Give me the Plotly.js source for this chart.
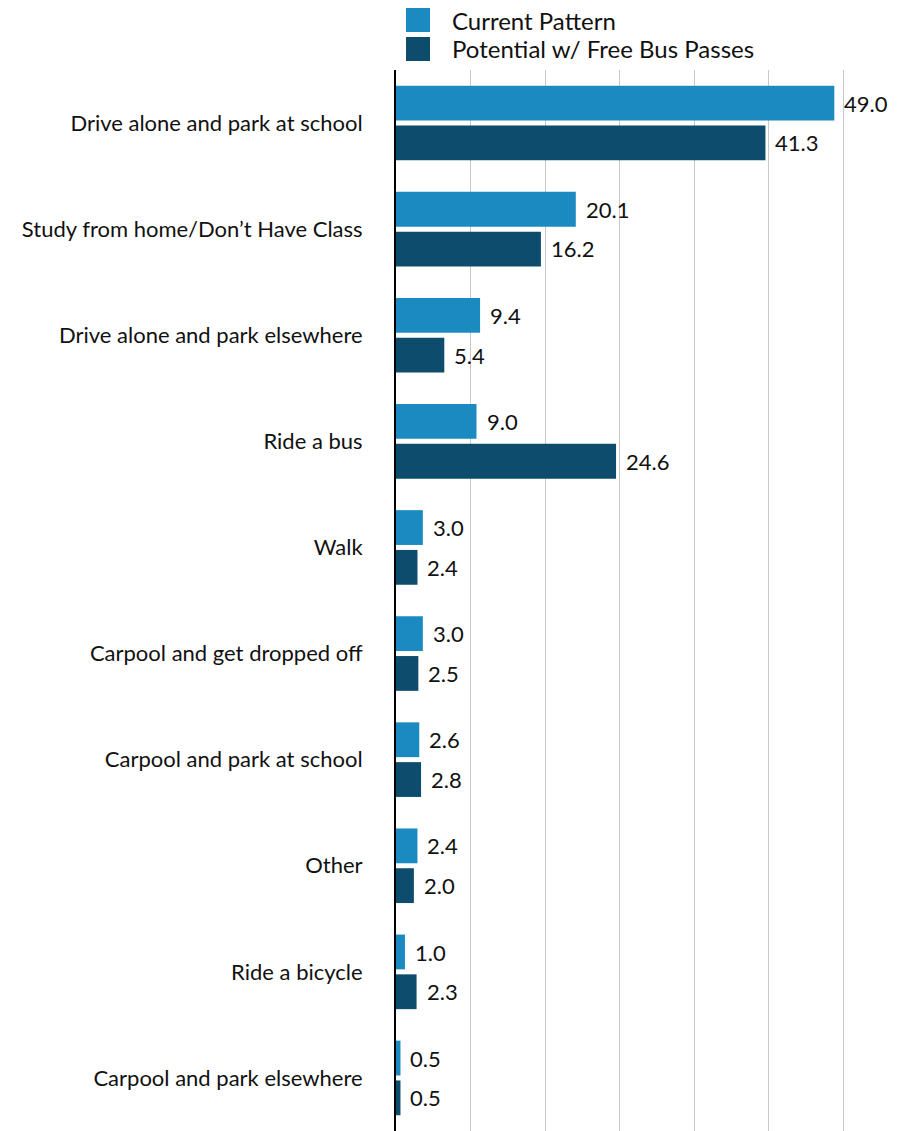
<!DOCTYPE html>
<html>
<head>
<meta charset="utf-8">
<script src="https://cdn.plot.ly/plotly-3.0.1.min.js"></script>
<style>html,body{margin:0;padding:0;background:#fff;}#chart{width:903px;height:1131px;}</style>
</head>
<body>
<div id="chart"></div>
<script>
var categories = [
  "Drive alone and park at school",
  "Study from home/Don\u2019t Have Class",
  "Drive alone and park elsewhere",
  "Ride a bus",
  "Walk",
  "Carpool and get dropped off",
  "Carpool and park at school",
  "Other",
  "Ride a bicycle",
  "Carpool and park elsewhere"
];
var seriesNames = ["Current Pattern", "Potential w/ Free Bus Passes"];
var currentPattern = [49.0, 20.1, 9.4, 9.0, 3.0, 3.0, 2.6, 2.4, 1.0, 0.5];
var potentialFreeBus = [41.3, 16.2, 5.4, 24.6, 2.4, 2.5, 2.8, 2.0, 2.3, 0.5];
var seriesColors = ["#1b8ac0", "#0d4c6d"];

var W = 903, H = 1131;
var L = 396, T = 70, R = 0, B = 0;
var PW = W - L - R, PH = H - T - B;
function px2x(px){ return (px - L) / PW; }
function py2y(py){ return (H - B - py) / PH; }

var fontFam = "Lato, 'Open Sans', sans-serif";

var traces = [
  {type:'bar', orientation:'h', name:seriesNames[0], y:categories, x:currentPattern,
   marker:{color:seriesColors[0]}, showlegend:false, hoverinfo:'x+y'},
  {type:'bar', orientation:'h', name:seriesNames[1], y:categories, x:potentialFreeBus,
   marker:{color:seriesColors[1]}, showlegend:false, hoverinfo:'x+y'}
];

var annotations = [];
var allSeries = [currentPattern, potentialFreeBus];
var shifts = [19.8, -19.8];
allSeries.forEach(function(vals, si){
  vals.forEach(function(v, i){
    annotations.push({
      x: v, y: categories[i], xref:'x', yref:'y',
      text: v.toFixed(1), showarrow:false,
      xanchor:'left', yanchor:'middle', xshift:8, yshift:shifts[si],
      font:{family:fontFam, size:22, color:'#111'}
    });
  });
});

var shapes = [];
var legendY = [20, 49];
seriesNames.forEach(function(nm, si){
  shapes.push({type:'rect', xref:'paper', yref:'paper',
    x0:px2x(406), x1:px2x(430), y0:py2y(legendY[si]+12), y1:py2y(legendY[si]-12),
    fillcolor:seriesColors[si], line:{width:0}});
  annotations.push({xref:'paper', yref:'paper', x:px2x(450), y:py2y(legendY[si]),
    text:nm, showarrow:false, xanchor:'left', yanchor:'middle',
    font:{family:fontFam, size:24, color:'#111'}});
});

var layout = {
  width:W, height:H,
  margin:{l:L, r:R, t:T, b:B, pad:0},
  paper_bgcolor:'#fff', plot_bgcolor:'#fff',
  barmode:'group', bargap:0.25, bargroupgap:0.125,
  showlegend:false,
  font:{family:fontFam, size:22, color:'#111'},
  xaxis:{range:[0, PW/8.945], tick0:0, dtick:50/6, showticklabels:false,
    showgrid:true, gridcolor:'#c8c8c8', gridwidth:1, zeroline:false, showline:false, ticks:''},
  yaxis:{autorange:'reversed', type:'category', showline:true, linecolor:'#000', linewidth:2,
    ticks:'', ticklabelstandoff:27, tickfont:{family:fontFam, size:22, color:'#111'},
    showgrid:false, zeroline:false},
  annotations:annotations,
  shapes:shapes
};

Plotly.newPlot('chart', traces, layout, {displayModeBar:false, staticPlot:true});
</script>
</body>
</html>
